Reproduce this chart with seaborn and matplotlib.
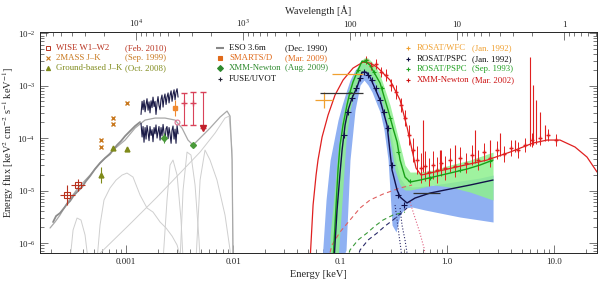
import numpy as np
import matplotlib
matplotlib.use("Agg")
import matplotlib.pyplot as plt
import matplotlib.ticker as mticker
import seaborn as sns

# ---------------- data: log10(E / keV), log10(flux) ----------------
wise_loge = [-3.551, -3.449]
wise_logf = [-5.086, -4.895]
wise_yerr = [0.19, 0.12]

mass_loge = [-3.234, -3.234, -3.121, -3.121, -2.991]
mass_logf = [-4.038, -4.171, -3.619, -3.733, -3.333]

gb_loge = [-3.234, -3.121, -2.991]
gb_logf = [-4.705, -4.190, -4.210]
gb_yerr = [0.15, 0.04, 0.04]

eso_loge = [-3.682, -3.654, -3.617, -3.579, -3.551, -3.523, -3.486, -3.449, -3.411, -3.374,
            -3.336, -3.290, -3.243, -3.196, -3.150, -3.121, -3.084, -3.047, -3.009, -2.963,
            -2.916, -2.869]
eso_logf = [-5.600, -5.486, -5.429, -5.333, -5.257, -5.200, -5.086, -5.010, -4.933, -4.819,
            -4.724, -4.590, -4.476, -4.381, -4.305, -4.229, -4.133, -4.057, -3.962, -3.867,
            -3.771, -3.695]

sed_loge = [-3.710, -3.664, -3.617, -3.551, -3.449, -3.336, -3.243, -3.121, -3.009, -2.916,
            -2.822, -2.729, -2.636, -2.542, -2.477, -2.421, -2.374, -2.308, -2.215, -2.121,
            -2.056, -2.028, -2.009, -2.000]
sed_logf = [-5.714, -5.600, -5.467, -5.238, -4.952, -4.705, -4.476, -4.229, -4.038, -3.810,
            -3.657, -3.619, -3.619, -3.657, -3.810, -4.038, -4.133, -4.000, -3.810, -3.600,
            -3.486, -3.581, -4.419, -6.324]

compa_loge = [-3.523, -3.495, -3.458, -3.421, -3.383, -3.355]
compa_logf = [-6.324, -5.752, -5.524, -5.562, -5.848, -6.324]
compb_loge = [-3.271, -3.243, -3.206, -3.150, -3.093, -3.037, -2.991, -2.935, -2.869, -2.804,
              -2.748, -2.682, -2.626, -2.570, -2.523, -2.486]
compb_logf = [-6.324, -5.657, -5.181, -4.952, -4.800, -4.705, -4.667, -4.743, -5.086, -5.333,
              -5.410, -5.600, -5.714, -5.867, -6.038, -6.324]
compc_loge = [-3.308, -2.963, -2.710, -2.495, -2.308, -2.168, -2.075, -2.037, -2.009, -2.000]
compc_logf = [-6.324, -5.638, -5.124, -4.667, -4.267, -3.905, -3.619, -3.581, -4.229, -6.324]
arc1_loge = [-2.654, -2.617, -2.589, -2.561, -2.523, -2.486, -2.467]
arc1_logf = [-6.324, -5.181, -4.514, -4.419, -4.705, -5.562, -6.324]
arc2_loge = [-2.495, -2.467, -2.430, -2.393, -2.355, -2.318, -2.308]
arc2_logf = [-6.324, -4.990, -4.267, -4.324, -4.895, -5.943, -6.324]
arc3_loge = [-2.346, -2.308, -2.262, -2.215, -2.150, -2.075, -2.028, -2.019]
arc3_logf = [-6.324, -4.800, -4.229, -4.419, -4.800, -5.467, -6.133, -6.324]

spec_loge = [-2.860, -2.850, -2.841, -2.832, -2.822, -2.813, -2.804, -2.794, -2.785, -2.776,
             -2.766, -2.757, -2.748, -2.738, -2.729, -2.720, -2.710, -2.701, -2.692, -2.682,
             -2.673, -2.664, -2.654, -2.645, -2.636, -2.626, -2.617, -2.607, -2.598, -2.589,
             -2.579, -2.570, -2.561, -2.551, -2.542, -2.533, -2.523, -2.514]
spec_hi_logf = [-3.55, -3.30, -3.46, -3.28, -3.50, -3.36, -3.25, -3.47, -3.31, -3.52,
                -3.29, -3.42, -3.22, -3.40, -3.30, -3.55, -3.33, -3.21, -3.38, -3.46,
                -3.26, -3.18, -3.41, -3.24, -3.16, -3.36, -3.22, -3.14, -3.33, -3.19,
                -3.10, -3.30, -3.17, -3.08, -3.27, -3.13, -3.06, -3.22]
spec_lo_logf = [-3.72, -3.98, -3.78, -4.08, -3.80, -4.02, -3.76, -3.90, -4.05, -3.78,
                -3.95, -3.84, -4.07, -3.80, -3.92, -3.75, -4.00, -3.88, -3.78, -4.04,
                -3.80, -3.96, -3.74, -3.90, -4.06, -3.82, -3.78, -4.01, -3.80, -3.92,
                -4.10, -3.85, -3.77, -4.02, -3.83, -4.10, -3.76, -3.92]

uv_loge = [-2.458, -2.374]
uv_logf = [-3.333, -3.333]
uv_err_lo = [0.42, 0.42]
uv_err_hi = [0.19, 0.21]
uvlim_loge = [-2.280]
uvlim_logf = [-3.810]
uvlim_err_hi = [0.686]

smarts_loge = [-2.542]
smarts_logf = [-3.429]
pink_loge = [-2.523]
pink_logf = [-3.695]
om_loge = [-2.645, -2.374]
om_logf = [-4.000, -4.133]
om_yerr = [0.10, 0.03]

xmm_model_loge = [-1.280, -1.252, -1.224, -1.206, -1.168, -1.112, -1.047, -0.972, -0.879, -0.785,
                  -0.720, -0.654, -0.533, -0.439, -0.374, -0.327, -0.290, -0.243, -0.159, -0.037,
                  0.168, 0.374, 0.589, 0.804, 0.935, 1.056, 1.196, 1.308, 1.402]
xmm_model_logf = [-6.324, -5.276, -4.705, -4.419, -3.981, -3.562, -3.181, -2.895, -2.667, -2.552,
                  -2.571, -2.648, -2.895, -3.276, -3.790, -4.229, -4.571, -4.705, -4.667, -4.610,
                  -4.514, -4.419, -4.267, -4.095, -4.038, -4.038, -4.171, -4.362, -4.648]

xmm_loge = [-0.757, -0.710, -0.664, -0.617, -0.570, -0.523, -0.477, -0.430, -0.393, -0.355,
            -0.318, -0.280, -0.243, -0.206, -0.168, -0.131, -0.093, -0.056, -0.019, 0.028,
            0.075, 0.121, 0.178, 0.234, 0.290, 0.346, 0.402, 0.467, 0.533, 0.598,
            0.664, 0.729, 0.794, 0.869, 0.944, 1.019]
xmm_logf = [-2.514, -2.629, -2.590, -2.743, -2.800, -2.990, -3.124, -3.371, -3.619, -3.943,
            -4.229, -4.419, -4.571, -4.533, -4.648, -4.514, -4.610, -4.476, -4.571, -4.419,
            -4.533, -4.381, -4.476, -4.324, -4.419, -4.267, -4.381, -4.229, -4.305, -4.190,
            -4.229, -4.133, -4.038, -4.000, -3.943, -4.038]
xmm_yerr = [0.08, 0.08, 0.10, 0.10, 0.11, 0.11, 0.13, 0.13, 0.15, 0.19,
            0.23, 0.27, 0.29, 0.29, 0.27, 0.27, 0.25, 0.25, 0.23, 0.23,
            0.21, 0.21, 0.19, 0.19, 0.19, 0.17, 0.17, 0.17, 0.15, 0.15,
            0.15, 0.13, 0.13, 0.13, 0.11, 0.11]

line_loge = [-0.224, -0.065, 0.075, 0.262, 0.402, 0.495, 0.636, 0.776, 0.804, 0.832, 0.869, 0.916]
line_top_logf = [-3.657, -4.229, -4.133, -3.848, -4.038, -3.905, -4.038, -2.457, -2.990, -3.276, -3.505, -3.752]
line_base_logf = [-4.648, -4.610, -4.552, -4.476, -4.419, -4.343, -4.267, -4.152, -4.133, -4.114, -4.095, -4.057]

pspc93_loge = [-1.065, -1.037, -1.019, -1.000, -0.972, -0.935, -0.907, -0.879, -0.841, -0.794,
               -0.757, -0.720, -0.626, -0.551, -0.505, -0.467, -0.439, -0.393, -0.346, -0.252,
               -0.131, 0.028, 0.187, 0.308, 0.430]
pspc93_logf = [-6.324, -5.276, -4.610, -4.133, -3.752, -3.371, -3.124, -2.933, -2.743, -2.533,
               -2.552, -2.610, -2.952, -3.467, -3.810, -4.076, -4.419, -4.743, -4.838, -4.800,
               -4.743, -4.667, -4.590, -4.514, -4.419]
pspc93_band_loge = [-1.093, -1.056, -1.019, -0.981, -0.944, -0.907, -0.860, -0.813, -0.776, -0.738,
                    -0.701, -0.664, -0.626, -0.579, -0.533, -0.486, -0.439, -0.393, -0.346, -0.252,
                    -0.131, 0.028, 0.215, 0.430]
pspc93_band_hi = [-5.848, -5.086, -4.229, -3.619, -3.276, -2.990, -2.743, -2.552, -2.476, -2.476,
                  -2.552, -2.648, -2.800, -3.086, -3.371, -3.752, -4.133, -4.514, -4.648, -4.648,
                  -4.610, -4.514, -4.419, -4.267]
pspc93_band_lo = [-6.324, -6.324, -6.324, -5.181, -4.038, -3.467, -3.086, -2.800, -2.705, -2.743,
                  -2.857, -2.990, -3.181, -3.562, -4.038, -4.610, -4.895, -4.990, -4.990, -4.952,
                  -4.895, -4.933, -5.029, -5.181]
pspc93_pts_loge = [-0.907, -0.832, -0.757, -0.682, -0.607, -0.533, -0.458, -0.346, -0.159, 0.121, 0.402]
pspc93_pts_logf = [-3.124, -2.705, -2.514, -2.743, -3.048, -3.619, -4.267, -4.819, -4.762, -4.610, -4.438]

pspc92_loge = [-1.056, -1.028, -1.000, -0.981, -0.953, -0.925, -0.888, -0.841, -0.794, -0.757,
               -0.720, -0.626, -0.561, -0.514, -0.467, -0.439, -0.374, -0.299, -0.159, 0.028,
               0.215, 0.430]
pspc92_logf = [-6.324, -5.371, -4.667, -4.229, -3.752, -3.467, -3.238, -3.029, -2.743, -2.743,
               -2.838, -3.276, -3.752, -4.610, -4.990, -5.124, -5.238, -5.143, -5.048, -4.971,
               -4.895, -4.800]
pspc92_band_loge = [-1.168, -1.131, -1.093, -1.056, -1.019, -0.981, -0.944, -0.907, -0.860, -0.813,
                    -0.776, -0.738, -0.701, -0.664, -0.626, -0.589, -0.551, -0.514, -0.477, -0.439,
                    -0.393, -0.327, -0.206, -0.065, 0.121, 0.308, 0.430]
pspc92_band_hi = [-6.324, -5.181, -4.419, -4.038, -3.657, -3.371, -3.124, -2.895, -2.705, -2.590,
                  -2.571, -2.610, -2.705, -2.857, -3.048, -3.276, -3.619, -4.038, -4.457, -4.762,
                  -4.895, -4.933, -4.914, -4.876, -4.819, -4.762, -4.705]
pspc92_band_lo = [-6.324, -6.324, -6.324, -6.324, -6.324, -6.324, -6.133, -4.419, -3.467, -2.990,
                  -2.895, -2.990, -3.124, -3.314, -3.505, -3.848, -4.419, -5.657, -5.790, -5.467,
                  -5.333, -5.314, -5.371, -5.429, -5.505, -5.562, -5.600]
pspc92_pts_loge = [-0.963, -0.925, -0.888, -0.850, -0.813, -0.776, -0.738, -0.701, -0.664, -0.626,
                   -0.589, -0.551, -0.514, -0.458, -0.402]
pspc92_pts_logf = [-3.943, -3.505, -3.238, -3.048, -2.857, -2.743, -2.800, -2.895, -3.048, -3.276,
                   -3.505, -3.810, -4.514, -5.086, -5.276]

xmm_bb_loge = [-1.112, -1.075, -1.000, -0.907, -0.813, -0.720, -0.598, -0.439, -0.327]
xmm_bb_logf = [-6.324, -6.038, -5.790, -5.562, -5.333, -5.181, -5.067, -4.952, -4.895]
p93_pl_loge = [-0.935, -0.907, -0.832, -0.748, -0.673, -0.598, -0.505, -0.393]
p93_pl_logf = [-6.324, -6.133, -5.943, -5.810, -5.676, -5.562, -5.467, -5.410]
p92_pl_loge = [-0.841, -0.813, -0.738, -0.654, -0.579, -0.505, -0.439, -0.374]
p92_pl_logf = [-6.324, -6.133, -5.943, -5.810, -5.676, -5.562, -5.448, -5.333]
dot1_loge = [-0.486, -0.467, -0.449, -0.430, -0.421]
dot1_logf = [-5.276, -5.562, -5.848, -6.133, -6.324]
dot2_loge = [-0.439, -0.421, -0.393, -0.374, -0.364]
dot2_logf = [-5.333, -5.657, -5.943, -6.190, -6.324]
dot3_loge = [-0.346, -0.308, -0.262, -0.215, -0.196]
dot3_logf = [-5.219, -5.467, -5.752, -6.095, -6.324]

wfc_loge = [-0.935, -1.150]
wfc_lo = [-1.075, -1.234]
wfc_hi = [-0.785, -1.065]
wfc_logf = [-2.781, -3.276]
wfc_yerr = [0.0, 0.15]
pbin_loge = [-0.991, -0.196]
pbin_lo = [-1.187, -0.318]
pbin_hi = [-0.785, -0.065]
pbin_logf = [-3.143, -5.048]

energy_ticks = [0.001, 0.01, 0.1, 1.0, 10.0]
energy_labels = ["0.001", "0.01", "0.1", "1.0", "10.0"]
wave_ticks = [1e4, 1e3, 100, 10, 1]
wave_labels = ["10$^4$", "10$^3$", "100", "10", "1"]

legend_left = [("WISE W1\u2013W2", "(Feb. 2010)", "#b8321e", "s"),
               ("2MASS J\u2013K", "(Sep. 1999)", "#c8781e", "x"),
               ("Ground-based J\u2013K", "(Oct. 2008)", "#7f8a1a", "^")]
legend_mid = [("ESO 3.6m", "(Dec. 1990)", "#888888", "_"),
              ("SMARTS/D", "(Mar. 2009)", "#e06a1a", "s"),
              ("XMM-Newton", "(Aug. 2009)", "#2e8a2e", "D"),
              ("FUSE/UVOT", "", "#222233", "+")]
legend_right = [("ROSAT/WFC", "(Jan. 1992)", "#f0a030", "+"),
                ("ROSAT/PSPC", "(Jan. 1992)", "#101040", "+"),
                ("ROSAT/PSPC", "(Sep. 1993)", "#22a022", "+"),
                ("XMM-Newton", "(Mar. 2002)", "#cc1111", "+")]

# ---------------- style ----------------
sns.set_theme(style="ticks")
plt.rcParams["font.family"] = ["Liberation Serif", "DejaVu Serif"]
plt.rcParams["mathtext.fontset"] = "stix"
plt.rcParams["axes.linewidth"] = 0.6


def P(a):
    return np.power(10.0, np.asarray(a, dtype=float))


def line(ax, le, lf, color, lw=0.8, ls="-", z=2, alpha=1.0):
    sns.lineplot(x=P(le), y=P(lf), ax=ax, color=color, lw=lw, linestyle=ls,
                 estimator=None, sort=False, legend=False, zorder=z, alpha=alpha)


def yerr_from(lf, lo, hi):
    f = P(lf)
    return [f - f * P(-np.asarray(lo)), f * P(np.asarray(hi)) - f]


fig = plt.figure(figsize=(6.0, 2.85), dpi=100)
ax = fig.add_axes([40 / 600, 1 - 253 / 285, 557 / 600, 221 / 285])
ax.set_xscale("log")
ax.set_yscale("log")
xmin, xmax = 1.57e-4, 25.2
ax.set_xlim(xmin, xmax)
ax.set_ylim(6.45e-7, 1.05e-2)

# bands
ax.fill_between(P(pspc92_band_loge), P(pspc92_band_lo), P(pspc92_band_hi),
                color="#8fb0f2", lw=0, zorder=1)
ax.fill_between(P(pspc93_band_loge), P(pspc93_band_lo), P(pspc93_band_hi),
                color="#8ef08e", lw=0, zorder=1.2, alpha=0.85)

# optical/IR model components
for le, lf in [(compa_loge, compa_logf), (compb_loge, compb_logf), (compc_loge, compc_logf),
               (arc1_loge, arc1_logf), (arc2_loge, arc2_logf), (arc3_loge, arc3_logf)]:
    line(ax, le, lf, "#cfcfcf", lw=0.7, z=1.5)
line(ax, sed_loge, sed_logf, "#a8a8a8", lw=0.9, z=1.6)
line(ax, eso_loge, eso_logf, "#8c8c8c", lw=1.3, z=1.7)

# optical spectra
line(ax, spec_loge, spec_hi_logf, "#1c1c48", lw=0.8, z=3)
line(ax, spec_loge, spec_lo_logf, "#1c1c48", lw=0.8, z=3)

# photometry
ax.errorbar(P(wise_loge), P(wise_logf), yerr=yerr_from(wise_logf, wise_yerr, wise_yerr),
            xerr=yerr_from(wise_loge, [0.07, 0.07], [0.07, 0.07]),
            fmt="s", mfc="none", mec="#b8321e", ecolor="#b8321e", ms=4, mew=0.8, elinewidth=0.8, zorder=5)
ax.plot(P(mass_loge), P(mass_logf), "x", color="#c8781e", ms=3.5, mew=1.0, zorder=5)
ax.errorbar(P(gb_loge), P(gb_logf), yerr=yerr_from(gb_logf, gb_yerr, gb_yerr),
            fmt="^", color="#7f8a1a", ms=3.5, elinewidth=0.8, zorder=5)
ax.errorbar(P(uv_loge), P(uv_logf), yerr=yerr_from(uv_logf, uv_err_lo, uv_err_hi),
            fmt="+", color="#d9435a", ms=4, elinewidth=0.8, capsize=2.5, zorder=5)
ax.errorbar(P(uvlim_loge), P(uvlim_logf), yerr=yerr_from(uvlim_logf, [0.0], uvlim_err_hi),
            fmt="v", color="#c0202a", ms=4, elinewidth=0.8, capsize=2.5, ecolor="#d9435a", zorder=5)
ax.errorbar(P(smarts_loge), P(smarts_logf), yerr=yerr_from(smarts_logf, [0.15], [0.15]),
            fmt="s", color="#f08a30", ms=3, elinewidth=0.8, zorder=6)
ax.plot(P(pink_loge), P(pink_logf), "o", mfc="none", mec="#e07090", ms=3.5, mew=0.8, zorder=6)
ax.errorbar(P(om_loge), P(om_logf), yerr=yerr_from(om_logf, om_yerr, om_yerr),
            fmt="D", color="#4a9a3a", ms=3, elinewidth=0.8, zorder=6)

# X-ray
line(ax, xmm_bb_loge, xmm_bb_logf, "#e06060", lw=0.8, ls=(0, (4, 3)), z=2)
line(ax, p93_pl_loge, p93_pl_logf, "#3a9a3a", lw=0.8, ls=(0, (4, 3)), z=2)
line(ax, p92_pl_loge, p92_pl_logf, "#2a2a6a", lw=0.8, ls=(0, (4, 3)), z=2)
line(ax, dot1_loge, dot1_logf, "#2a2a6a", lw=0.8, ls=":", z=2)
line(ax, dot2_loge, dot2_logf, "#2a2a6a", lw=0.8, ls=":", z=2)
line(ax, dot3_loge, dot3_logf, "#e06080", lw=0.8, ls=":", z=2)

ax.vlines(P(line_loge), P(line_base_logf), P(line_top_logf), color="#e02020", lw=0.8, zorder=3)
ax.errorbar(P(xmm_loge), P(xmm_logf), yerr=yerr_from(xmm_logf, xmm_yerr, xmm_yerr),
            fmt="+", color="#e02020", ms=3, elinewidth=0.7, zorder=3)
line(ax, xmm_model_loge, xmm_model_logf, "#e02020", lw=0.9, z=3.5)

line(ax, pspc93_loge, pspc93_logf, "#18a018", lw=1.0, z=4)
ax.plot(P(pspc93_pts_loge), P(pspc93_pts_logf), "+", color="#18a018", ms=3, mew=0.8, zorder=4)
line(ax, pspc92_loge, pspc92_logf, "#12124a", lw=1.0, z=4.5)
ax.plot(P(pspc92_pts_loge), P(pspc92_pts_logf), "+", color="#12124a", ms=4, mew=0.8, zorder=4.5)

ax.errorbar(P(wfc_loge), P(wfc_logf),
            xerr=[P(wfc_loge) - P(wfc_lo), P(wfc_hi) - P(wfc_loge)],
            yerr=yerr_from(wfc_logf, wfc_yerr, wfc_yerr),
            fmt="none", ecolor="#f0a030", elinewidth=0.9, zorder=5)
ax.errorbar(P(pbin_loge), P(pbin_logf),
            xerr=[P(pbin_loge) - P(pbin_lo), P(pbin_hi) - P(pbin_loge)],
            fmt="none", ecolor="#333333", elinewidth=0.9, zorder=5)

# axes and ticks
ax.set_xticks(energy_ticks)
ax.set_xticklabels(energy_labels)
ax.xaxis.set_minor_locator(mticker.LogLocator(base=10, subs=np.arange(2, 10)))
ax.yaxis.set_major_locator(mticker.LogLocator(base=10, numticks=10))
ax.yaxis.set_minor_locator(mticker.LogLocator(base=10, subs=np.arange(2, 10), numticks=20))
ax.yaxis.set_minor_formatter(mticker.NullFormatter())
ax.tick_params(which="both", direction="in", labelsize=6.5, right=True, top=False,
               color="#444444", width=0.5)
ax.tick_params(which="major", length=6)
ax.tick_params(which="minor", length=3)
ax.set_xlabel("Energy [keV]", fontsize=7.5, labelpad=3)
ax.set_ylabel("Energy flux [keV$^2$ cm$^{-2}$ s$^{-1}$ keV$^{-1}$]", fontsize=7.5, labelpad=1)

ax2 = ax.twiny()
ax2.set_xscale("log")
ax2.set_xlim(12.398 / xmin, 12.398 / xmax)
ax2.set_xticks(wave_ticks)
ax2.set_xticklabels(wave_labels)
ax2.xaxis.set_minor_locator(mticker.LogLocator(base=10, subs=np.arange(2, 10)))
ax2.xaxis.set_minor_formatter(mticker.NullFormatter())
ax2.tick_params(which="both", direction="in", labelsize=6.5, color="#444444", width=0.5, pad=2)
ax2.tick_params(which="major", length=6)
ax2.tick_params(which="minor", length=3)
ax2.set_xlabel("Wavelength [\u00c5]", fontsize=7.5, labelpad=3)
for sp in ax2.spines.values():
    sp.set_linewidth(0.6)

# legend text blocks
def legend_block(entries, xm, xt, xd, ys):
    for (name, date, col, mk), yy in zip(entries, ys):
        fy = (253 - yy) / 221
        if mk == "s" and col == "#b8321e":
            ax.plot([(xm - 40) / 557], [fy], mk, transform=ax.transAxes, mfc="none", mec=col, ms=3, mew=0.7)
        elif mk == "_":
            ax.plot([(xm - 40) / 557], [fy], mk, transform=ax.transAxes, color=col, ms=6, mew=1.5)
        else:
            ax.plot([(xm - 40) / 557], [fy], mk, transform=ax.transAxes, color=col, ms=3, mew=0.8)
        tcol = "#111111" if col in ("#888888", "#222233", "#101040") else col
        ax.text((xt - 40) / 557, fy, name, transform=ax.transAxes, color=tcol, fontsize=6.3, va="center")
        ax.text((xd - 40) / 557, fy, date, transform=ax.transAxes, color=tcol, fontsize=6.3, va="center")


legend_block(legend_left, 48, 56, 125, [48, 58, 68])
legend_block(legend_mid, 220, 229, 285, [48, 58, 68, 79])
legend_block(legend_right, 408, 417, 472, [48, 59, 69, 80])

fig.savefig("out.png", dpi=100)
